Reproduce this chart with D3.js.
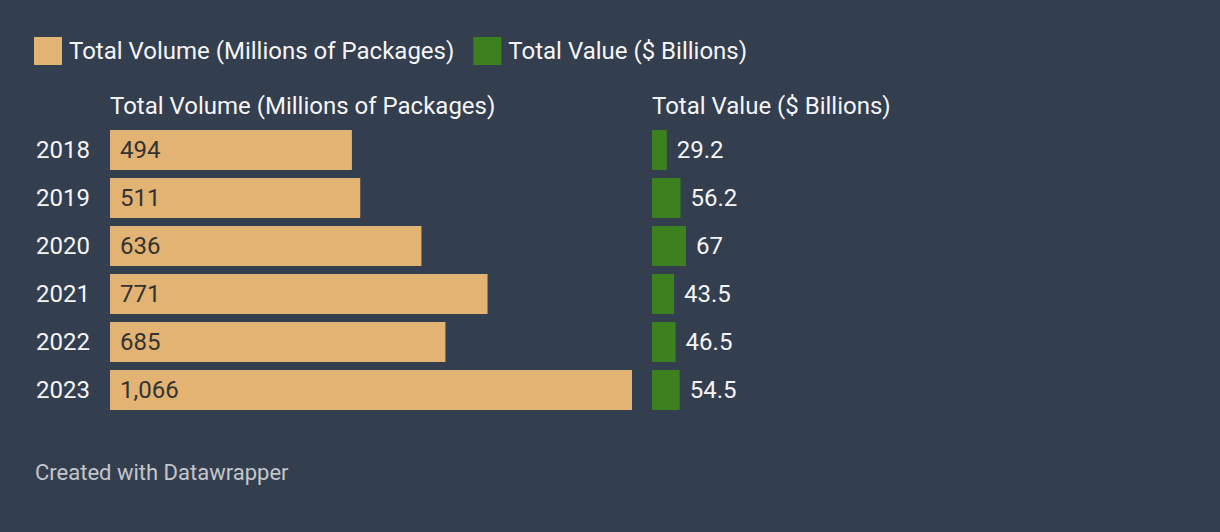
<!DOCTYPE html>
<html><head><meta charset="utf-8">
<script src="https://cdn.jsdelivr.net/npm/d3@7"></script>
<style>
html,body{margin:0;padding:0;background:#333e4f;}
svg{display:block;font-family:Roboto,sans-serif;}
</style></head>
<body>
<svg id="chart" width="1220" height="532"></svg>
<script>
const years = ["2018","2019","2020","2021","2022","2023"];
const volume = [494, 511, 636, 771, 685, 1066];
const value = [29.2, 56.2, 67, 43.5, 46.5, 54.5];
const seriesNames = ["Total Volume (Millions of Packages)", "Total Value ($ Billions)"];
const colors = ["#e2b373", "#3d8020"];

const svg = d3.select("#chart");
const W = 1220, H = 532;
svg.append("rect").attr("width", W).attr("height", H).attr("fill", "#333e4f");

const FS = 24;

// legend
const leg = svg.append("g");
let lx = 34;
seriesNames.forEach((n, i) => {
  leg.append("rect").attr("x", lx).attr("y", 37).attr("width", 28).attr("height", 28).attr("fill", colors[i]);
  const t = leg.append("text").attr("x", lx + 35).attr("y", 51).attr("dy", "0.35em")
    .attr("fill", "#f5f5f5").attr("font-size", FS).text(n);
  lx += 35 + t.node().getComputedTextLength() + 19;
});

const y = d3.scaleBand().domain(years).range([126, 414]).paddingInner(1/6).paddingOuter(1/12);
const xVol = d3.scaleLinear().domain([0, d3.max(volume)]).range([110, 632]);
const xVal = d3.scaleLinear().domain([0, d3.max(value)]).range([652, 686]);

// headers
svg.append("text").attr("x", 110).attr("y", 106).attr("dy", "0.35em").attr("fill", "#f5f5f5")
  .attr("font-size", FS).text(seriesNames[0]);
svg.append("text").attr("x", 652).attr("y", 106).attr("dy", "0.35em").attr("fill", "#f5f5f5")
  .attr("font-size", FS).text(seriesNames[1]);

// year labels
svg.append("g").selectAll("text").data(years).join("text")
  .attr("x", 36).attr("y", d => y(d) + y.bandwidth() / 2).attr("dy", "0.35em")
  .attr("fill", "#f5f5f5").attr("font-size", FS).text(d => d);

const fmtVol = d3.format(",");
// volume bars
svg.append("g").selectAll("rect").data(volume).join("rect")
  .attr("x", xVol(0)).attr("y", (d, i) => y(years[i])).attr("height", y.bandwidth())
  .attr("width", d => xVol(d) - xVol(0)).attr("fill", colors[0]);
svg.append("g").selectAll("text").data(volume).join("text")
  .attr("x", xVol(0) + 10).attr("y", (d, i) => y(years[i]) + y.bandwidth() / 2).attr("dy", "0.35em")
  .attr("fill", "#333333").attr("font-size", FS).text(d => fmtVol(d));

// value bars
svg.append("g").selectAll("rect").data(value).join("rect")
  .attr("x", xVal(0)).attr("y", (d, i) => y(years[i])).attr("height", y.bandwidth())
  .attr("width", d => xVal(d) - xVal(0)).attr("fill", colors[1]);
svg.append("g").selectAll("text").data(value).join("text")
  .attr("x", d => xVal(d) + 10).attr("y", (d, i) => y(years[i]) + y.bandwidth() / 2).attr("dy", "0.35em")
  .attr("fill", "#f5f5f5").attr("font-size", FS).text(d => d);

// footer
svg.append("text").attr("x", 35).attr("y", 472).attr("dy", "0.35em").attr("fill", "#c4c6ca")
  .attr("font-size", 22).text("Created with Datawrapper");
</script>
</body></html>
